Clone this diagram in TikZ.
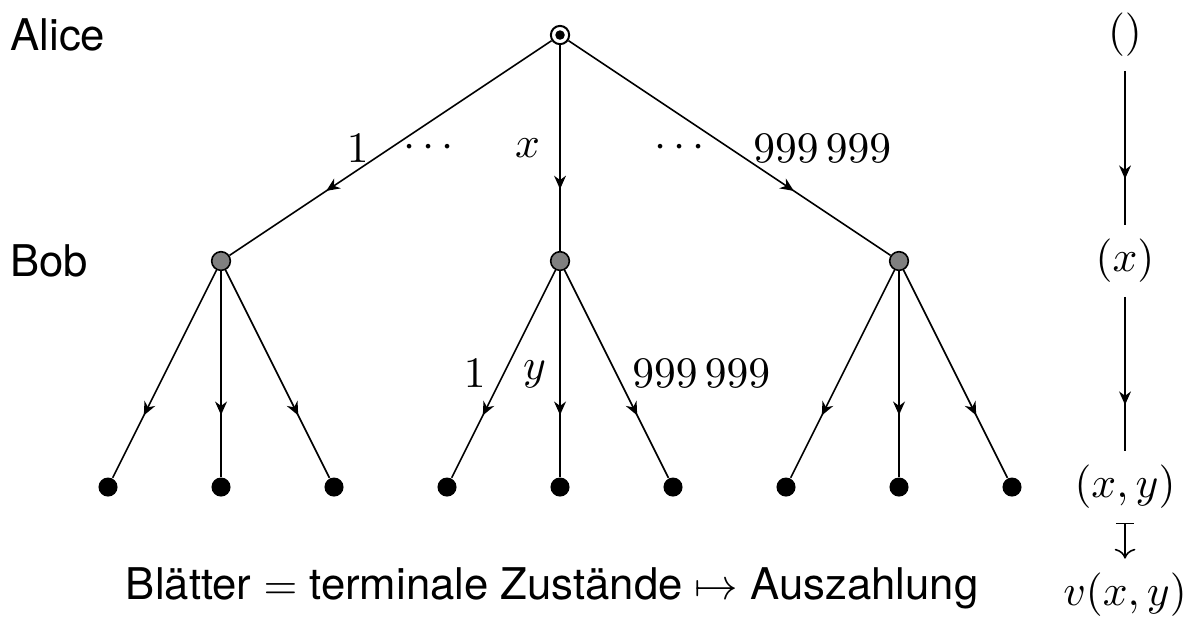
\documentclass[tikz,border=0pt]{standalone}
\usepackage{fontspec}
\usepackage{amsmath,amssymb}
\usetikzlibrary{arrows.meta,decorations.markings}
\newfontfamily\heros{TeX Gyre Heros}
\newcommand\treesize{\fontsize{10.6pt}{12.7pt}\selectfont}
\newcommand\labelsize{\fontsize{11pt}{13.2pt}\selectfont}

\begin{document}
\begin{tikzpicture}[
    every node/.style={font=\treesize},
    alicenode/.style={circle, draw, fill=white, line width=0.5pt, minimum size=4.6pt, inner sep=0pt},
    bobnode/.style={circle, draw, fill=gray, minimum size=4.7pt, inner sep=0pt},
    leaf/.style={circle, fill=black, minimum size=4.8pt, inner sep=0pt},
    move/.style={postaction={decorate}, decoration={markings,
        mark=at position 0.7 with {\arrow{Stealth[length=3.4pt,width=3pt]}}}},
    player/.style={font=\labelsize\heros, anchor=west, inner sep=0pt},
]
\useasboundingbox (-4.956,-1.195) rectangle (5.584,4.31);

% Players
\node[player] (alice) at (-4.87,4) {Alice};
\node[player] (bob) at (-4.87,2) {Bob};

% Root
\node[alicenode] (r) at (0,4) {};
\fill (r) circle (1.2pt);

% Bob's nodes and leaves
\foreach \i/\bx in {1/-3, 2/0, 3/3}{
  \node[bobnode] (b\i) at (\bx,2) {};
  \foreach \j/\lx in {1/-1, 2/0, 3/1}{
    \node[leaf] (l\i\j) at (\bx+\lx,0) {};
  }
}

% Alice's moves
\draw[move] (r) -- node[left=2pt] {$1$} (b1);
\draw[move] (r) -- node[left=1.5pt] {$x$} (b2);
\draw[move] (r) -- node[right=2.5pt] {$999\,999$} (b3);
\node (dotsl) at (-1.13,3) {$\cdots$};
\node (dotsr) at (1.09,3) {$\cdots$};

% Bob's moves
\foreach \i in {1,3}{
  \foreach \j in {1,2,3}{
    \draw[move] (b\i) -- (l\i\j);
  }
}
\draw[move] (b2) -- node[left=1pt] {$1$} (l21);
\draw[move] (b2) -- node[left] {$y$} (l22);
\draw[move] (b2) -- node[right=0.5pt] {$999\,999$} (l23);

% Histories
\node (h0) at (5,4) {$()$};
\node (h1) at (5,2) {$(x)$};
\node (h2) at (5,0) {$(x,y)$};
\node (h3) at (5,-0.95) {$v(x,y)$};
\draw[move] (h0) -- (h1);
\draw[move] (h1) -- (h2);
\draw[|->] (h2) -- (h3);

% Payoff
\node[font=\labelsize\heros] (payoff) at (-0.07,-0.9) {Blätter $=$ terminale Zustände $\mapsto$ Auszahlung};

\end{tikzpicture}
\end{document}
